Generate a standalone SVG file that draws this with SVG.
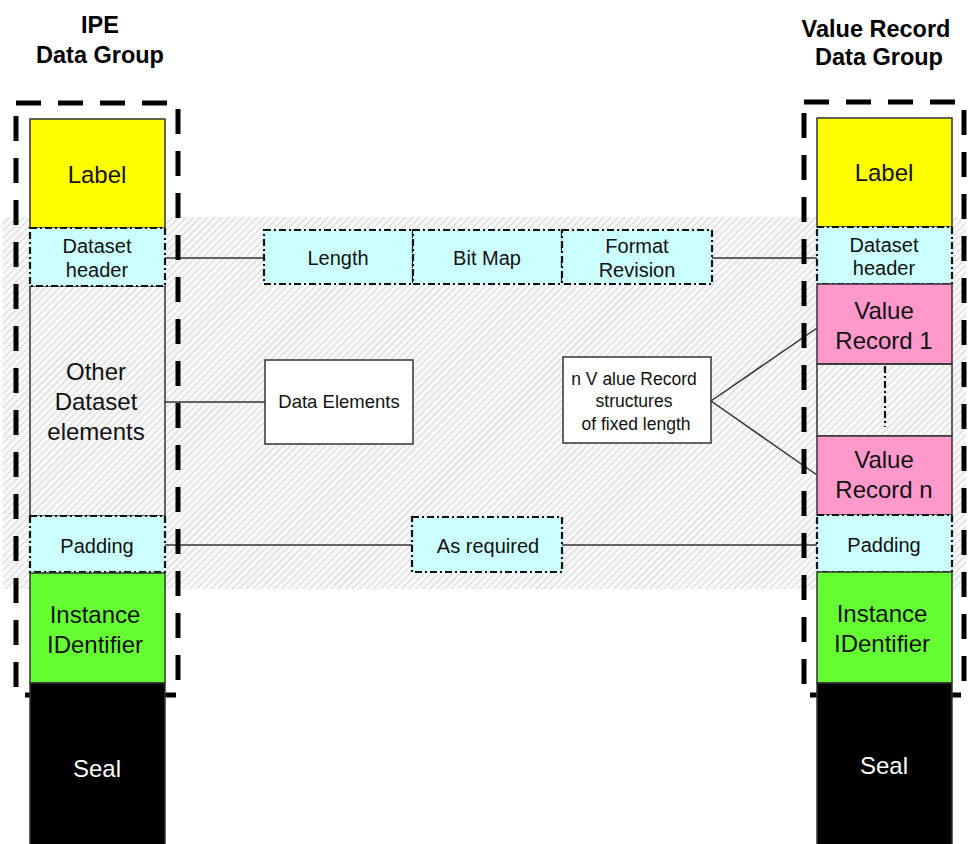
<svg xmlns="http://www.w3.org/2000/svg" width="969" height="844" viewBox="0 0 969 844">
<defs>
<pattern id="hatch" width="5" height="5" patternUnits="userSpaceOnUse" patternTransform="rotate(45)">
<rect width="5" height="5" fill="#f8f8f8"/>
<line x1="0" y1="0" x2="0" y2="5" stroke="#c6c6c6" stroke-width="1.3"/>
</pattern>
</defs>
<style>
text{font-family:"Liberation Sans",Arial,sans-serif;fill:#111;text-anchor:middle}
.title{font-weight:bold;font-size:23.5px;fill:#000}
.big{font-size:24px}
.mid{font-size:20px}
.sm{font-size:18.5px}
.xs{font-size:17.5px}
.col{stroke:#333;stroke-width:1.5}
.dd{stroke:#111;stroke-width:2.2;stroke-dasharray:7 3 2 3}
.grp{fill:none;stroke:#000;stroke-width:5;stroke-dasharray:25 17}
.conn line{stroke:#333;stroke-width:1.5}
.white{fill:#fff;stroke:#333;stroke-width:1.5}
</style>
<rect x="3" y="217" width="963" height="372" fill="url(#hatch)"/>

<g id="titles">
<text class="title" x="100" y="33">IPE</text>
<text class="title" x="100" y="63">Data Group</text>
<text class="title" x="876" y="37">Value Record</text>
<text class="title" x="879" y="65">Data Group</text>
</g>

<g id="connectors" class="conn">
<line x1="165" y1="258" x2="264" y2="258"/>
<line x1="712" y1="258" x2="817" y2="258"/>
<line x1="165" y1="402" x2="265" y2="402"/>
<line x1="711" y1="401" x2="817" y2="328"/>
<line x1="711" y1="401" x2="817" y2="475"/>
<line x1="165" y1="545" x2="412" y2="545"/>
<line x1="562" y1="545" x2="817" y2="545"/>
</g>

<g id="ipe-group-border"><rect class="grp" x="16" y="103" width="162" height="592"/></g>
<g id="vr-group-border"><rect class="grp" x="804" y="102" width="160" height="593"/></g>

<g id="ipe-label"><rect class="col" x="30" y="119" width="135" height="109" fill="#ffff00"/><text class="big" x="97" y="183">Label</text></g>
<g id="ipe-other"><rect class="col" x="30" y="286" width="135" height="230" fill="none"/>
<text class="big" x="96" y="380">Other</text><text class="big" x="96" y="410">Dataset</text><text class="big" x="96" y="440">elements</text></g>
<g id="ipe-header"><rect class="dd" x="30" y="228" width="135" height="58" fill="#ccffff"/>
<text class="mid" x="97" y="253">Dataset</text><text class="mid" x="97" y="277">header</text></g>
<g id="ipe-padding"><rect class="dd" x="30" y="516" width="135" height="56" fill="#ccffff"/><text class="mid" x="97" y="553">Padding</text></g>
<g id="ipe-instance"><rect class="col" x="30" y="573" width="135" height="110" fill="#66ff33"/>
<text class="big" x="95" y="623">Instance</text><text class="big" x="95" y="653">IDentifier</text></g>
<g id="ipe-seal"><rect class="col" x="30" y="683" width="135" height="170" fill="#000"/><text class="big" x="97" y="777" style="fill:#fff">Seal</text></g>

<g id="vr-label"><rect class="col" x="817" y="118" width="135" height="109" fill="#ffff00"/><text class="big" x="884" y="181">Label</text></g>
<g id="vr-header"><rect class="dd" x="817" y="227" width="135" height="57" fill="#ccffff"/>
<text class="mid" x="884" y="252">Dataset</text><text class="mid" x="884" y="275">header</text></g>
<g id="vr-record1"><rect class="col" x="817" y="284" width="135" height="80" fill="#ff99cc"/>
<text class="big" x="884" y="319">Value</text><text class="big" x="884" y="349">Record 1</text></g>
<g id="vr-gap"><rect class="col" x="817" y="364" width="135" height="72" fill="none"/>
<line x1="885" y1="366" x2="885" y2="427" class="dd"/></g>
<g id="vr-recordn"><rect class="col" x="817" y="436" width="135" height="79" fill="#ff99cc"/>
<text class="big" x="884" y="468">Value</text><text class="big" x="884" y="498">Record n</text></g>
<g id="vr-padding"><rect class="dd" x="817" y="515" width="135" height="57" fill="#ccffff"/><text class="mid" x="884" y="552">Padding</text></g>
<g id="vr-instance"><rect class="col" x="817" y="572" width="135" height="111" fill="#66ff33"/>
<text class="big" x="882" y="622">Instance</text><text class="big" x="882" y="652">IDentifier</text></g>
<g id="vr-seal"><rect class="col" x="817" y="683" width="135" height="170" fill="#000"/><text class="big" x="884" y="774" style="fill:#fff">Seal</text></g>

<g id="length"><rect class="dd" x="264" y="230" width="149" height="54" fill="#ccffff"/><text class="mid" x="338" y="265">Length</text></g>
<g id="bitmap"><rect class="dd" x="413" y="230" width="149" height="54" fill="#ccffff"/><text class="mid" x="487" y="265">Bit Map</text></g>
<g id="format-revision"><rect class="dd" x="562" y="230" width="150" height="54" fill="#ccffff"/>
<text class="mid" x="637" y="253">Format</text><text class="mid" x="637" y="277">Revision</text></g>
<g id="data-elements"><rect class="white" x="265" y="360" width="148" height="84"/><text class="sm" x="339" y="408">Data Elements</text></g>
<g id="n-value-records"><rect class="white" x="563" y="357" width="148" height="86"/>
<text class="xs" x="634" y="385">n V alue Record</text><text class="xs" x="634" y="407">structures</text><text class="xs" x="636" y="430">of fixed length</text></g>
<g id="as-required"><rect class="dd" x="412" y="517" width="150" height="55" fill="#ccffff"/><text class="mid" x="488" y="553">As required</text></g>
</svg>
